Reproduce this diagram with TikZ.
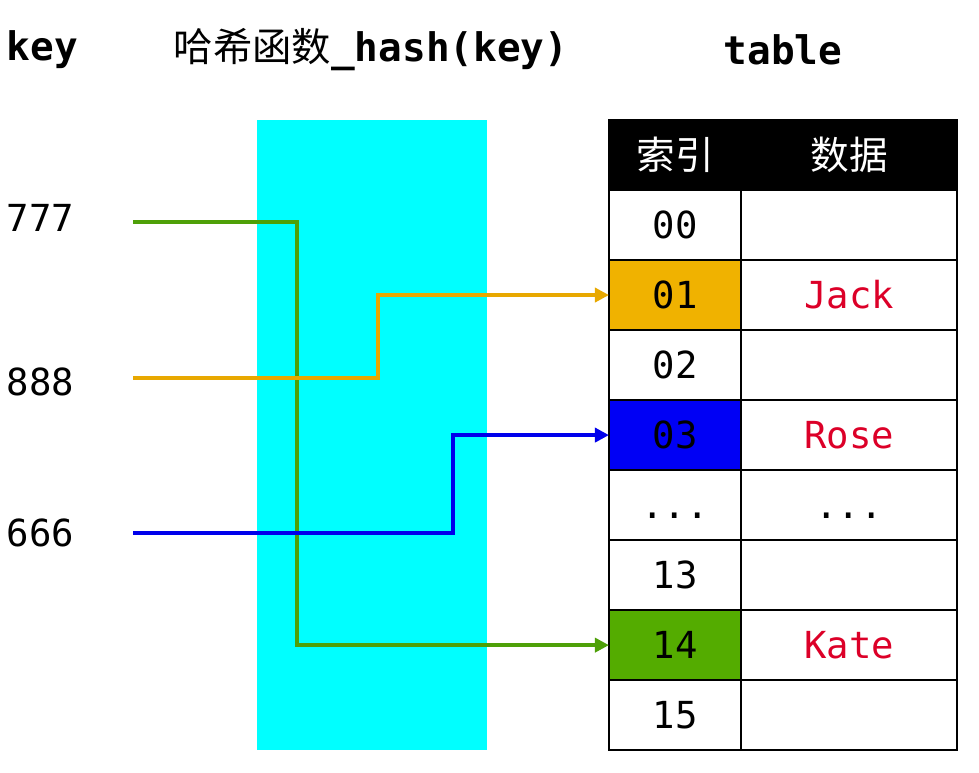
\documentclass[tikz,border=0pt]{standalone}
\usepackage{fontspec}
\setmonofont{DejaVu Sans Mono}
\newfontfamily\cjk{Noto Sans CJK SC}
\usetikzlibrary{arrows.meta, positioning}
\definecolor{hashcyan}{RGB}{0,255,255}
\definecolor{keygreen}{RGB}{78,160,8}
\definecolor{keyorange}{RGB}{232,168,0}
\definecolor{keyblue}{RGB}{0,0,235}
\definecolor{cellgreen}{RGB}{84,172,0}
\definecolor{cellorange}{RGB}{240,178,0}
\definecolor{cellblue}{RGB}{0,0,245}
\definecolor{namered}{RGB}{220,0,40}
\tikzset{
  toplabel/.style = {font=\fontsize{28}{32}\selectfont\ttfamily\bfseries},
  keylabel/.style = {anchor=west, font=\fontsize{26.5}{32}\selectfont\ttfamily},
  headcell/.style = {draw, fill=black, text=white, line width=1.8pt,
                     outer sep=0pt, minimum height=1.75cm,
                     font=\fontsize{27.5}{32}\selectfont\cjk},
  idxcell/.style  = {draw, line width=1.8pt, outer sep=0pt,
                     minimum width=3.3cm, minimum height=1.75cm,
                     text height=19.3pt, text depth=0pt,
                     font=\fontsize{26.5}{32}\selectfont\ttfamily},
  datacell/.style = {idxcell, minimum width=5.4cm, text=namered},
  hashlink/.style = {line width=3.2pt, -{Triangle[length=10pt, width=10pt]}},
}
\newcommand{\rowdots}{...}
\newcommand{\blackdots}{\textcolor{black}{...}}

\begin{document}
\begin{tikzpicture}[x=0.025cm, y=-0.025cm]
    \useasboundingbox (0,0) rectangle (979,772);

    % --- column titles ---
    \node[toplabel, anchor=west] (keytitle) at (2,50) {key};
    \node[toplabel] (hashtitle) at (371,50)
      {{\cjk\mdseries 哈希函数}\_hash(key)};
    \node[toplabel] (tabletitle) at (783,50) {table};

    % --- hash function band ---
    \fill[hashcyan] (257,120) rectangle (487,750);

    % --- table ---
    \node[headcell, minimum width=3.3cm] (i0) at (675,155) {索引};
    \node[headcell, minimum width=5.4cm, right=0pt of i0] (d0) {数据};
    \foreach \idx/\val/\clr [count=\i, remember=\i as \j (initially 0)] in
      {00//white, 01/Jack/cellorange, 02//white, 03/Rose/cellblue,
       \rowdots/\blackdots/white, 13//white, 14/Kate/cellgreen, 15//white}
    {
      \node[idxcell, fill=\clr, below=0pt of i\j] (i\i) {\idx};
      \node[datacell, right=0pt of i\i] (d\i) {\val};
    }

    % --- keys ---
    \node[keylabel] (k777) at (2,218) {777};
    \node[keylabel] (k888) at (2,382) {888};
    \node[keylabel] (k666) at (2,533) {666};
    \coordinate (s777) at (133,222);
    \coordinate (s888) at (133,378);
    \coordinate (s666) at (133,533);

    % --- hash links ---
    \draw[hashlink, keygreen] (s777) -- ++(164,0) |- (i7.west);
    \draw[hashlink, keyorange] (s888) -- ++(245,0) |- (i2.west);
    \draw[hashlink, keyblue] (s666) -- ++(320,0) |- (i4.west);
\end{tikzpicture}
\end{document}
